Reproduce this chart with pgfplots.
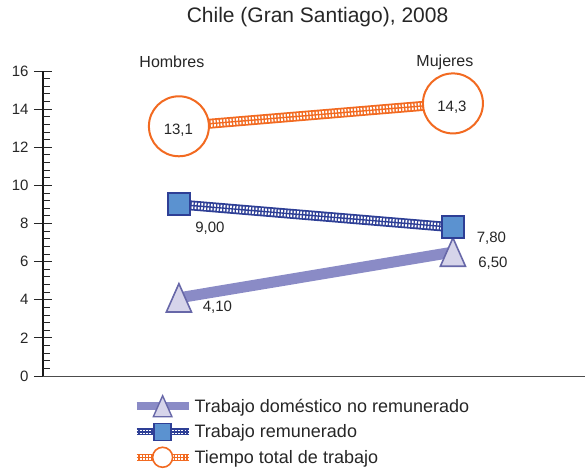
\documentclass[border=0pt]{standalone}
\usepackage{pgfplots}
\pgfplotsset{compat=1.18}
\usepackage{fontspec}
\setmainfont{Liberation Sans}

\definecolor{naranja}{HTML}{F26A21}
\definecolor{azul}{HTML}{2E3F96}
\definecolor{azulclaro}{HTML}{5B92D0}
\definecolor{lila}{HTML}{8A8BC6}
\definecolor{lilaclaro}{HTML}{D6D4EA}
\definecolor{lilaborde}{HTML}{6767A8}
\definecolor{texto}{HTML}{262626}

% triangulo alargado
\pgfdeclareplotmark{tri}{%
  \pgfpathmoveto{\pgfqpoint{0pt}{1.05\pgfplotmarksize}}%
  \pgfpathlineto{\pgfqpoint{0.93\pgfplotmarksize}{-1.05\pgfplotmarksize}}%
  \pgfpathlineto{\pgfqpoint{-0.93\pgfplotmarksize}{-1.05\pgfplotmarksize}}%
  \pgfpathclose
  \pgfusepathqfillstroke}

\tikzset{
  dobleazul/.style={azul, line width=#1,
    postaction={draw=white, line width=0.64*#1, dash pattern=on 1.7pt off 1.5pt},
    postaction={draw=azul, line width=1.4pt}},
  doblenaranja/.style={naranja, line width=#1,
    postaction={draw=white, line width=0.64*#1, dash pattern=on 1.7pt off 1.5pt},
    postaction={draw=naranja, line width=1.4pt}},
}

\begin{document}
\begin{tikzpicture}
\useasboundingbox (-43pt,-93pt) rectangle (542pt,376pt);
\begin{axis}[
  at={(0,0)}, anchor=south west,
  scale only axis, width=542pt, height=305pt,
  xmin=0.504, xmax=2.482, ymin=0, ymax=16,
  axis lines=left, axis line style={-},
  x axis line style={line width=0.8pt, black!70},
  y axis line style={line width=1.6pt, black!90},
  xtick=\empty,
  ytick={0,2,...,16},
  tick align=center, major tick length=18pt,
  tick style={black!85, line width=0.8pt},
  extra y ticks={0.4,0.8,...,15.7},
  extra y tick labels={},
  extra y tick style={tick align=inside, major tick length=7pt},
  yticklabel style={font=\fontsize{15}{17}\selectfont, text=texto, xshift=-2pt},
  /pgf/number format/assume math mode=true,
  clip=false,
  title={Chile (Gran Santiago), 2008},
  title style={at={(0.5065,1)}, anchor=center, yshift=48pt,
    font=\fontsize{21}{24}\selectfont, text=texto},
  legend style={at={(0.165,-0.064)}, anchor=north west, draw=none, fill=none,
    font=\fontsize{18}{21}\selectfont, text=texto, row sep=6pt, inner sep=0pt},
  legend cell align=left,
  legend image code/.code={\draw[mark repeat=2,mark phase=2,#1]
    plot coordinates {(0pt,0pt)(26pt,0pt)(52pt,0pt)};},
]
\addlegendimage{lila, line width=8pt, mark=tri, mark size=10pt,
  mark options={fill=lilaclaro, draw=lilaborde, line width=1.4pt}}
\addlegendentry{Trabajo doméstico no remunerado}
\addlegendimage{dobleazul=7pt, mark=square*, mark size=8.5pt,
  mark options={fill=azulclaro, draw=azul, line width=1.6pt}}
\addlegendentry{Trabajo remunerado}
\addlegendimage{doblenaranja=7pt, mark=*, mark size=10pt,
  mark options={fill=white, draw=naranja, line width=1.6pt}}
\addlegendentry{Tiempo total de trabajo}

\addplot[forget plot, lila, line width=11pt, mark=tri, mark size=13.5pt,
  mark options={fill=lilaclaro, draw=lilaborde, line width=1.6pt}]
  coordinates {(1,4.10) (2,6.50)};
\addplot[forget plot, dobleazul=10pt, mark=square*, mark size=11pt,
  mark options={fill=azulclaro, draw=azul, line width=2pt}]
  coordinates {(1,9.00) (2,7.80)};
\addplot[forget plot, doblenaranja=10pt, mark=*, mark size=30pt,
  mark options={fill=white, draw=naranja, line width=2pt}]
  coordinates {(1,13.1) (2,14.3)};

\coordinate (h131) at (axis cs:1,13.1);
\coordinate (m143) at (axis cs:2,14.3);
\coordinate (h900) at (axis cs:1,9.00);
\coordinate (m780) at (axis cs:2,7.80);
\coordinate (m650) at (axis cs:2,6.50);
\coordinate (h410) at (axis cs:1,4.10);
\coordinate (htop) at (axis cs:1,16);
\coordinate (mtop) at (axis cs:2,16);
\end{axis}
\begin{scope}[every node/.style={text=texto, font=\fontsize{15}{17}\selectfont}]
\node at (h131) [xshift=-0.5pt, yshift=-3.5pt] {13,1};
\node at (m143) [xshift=-1pt, yshift=-3.5pt] {14,3};
\node at (h900) [xshift=31pt, yshift=-23.5pt] {9,00};
\node at (m780) [xshift=38.5pt, yshift=-10.5pt] {7,80};
\node at (m650) [xshift=40pt, yshift=-11pt] {6,50};
\node at (h410) [xshift=38.5pt, yshift=-9pt] {4,10};
\node[font=\fontsize{16}{18}\selectfont] at (htop) [xshift=-7pt, yshift=9pt] {Hombres};
\node[font=\fontsize{16}{18}\selectfont] at (mtop) [xshift=-8pt, yshift=9pt] {Mujeres};
\end{scope}
\end{tikzpicture}
\end{document}
